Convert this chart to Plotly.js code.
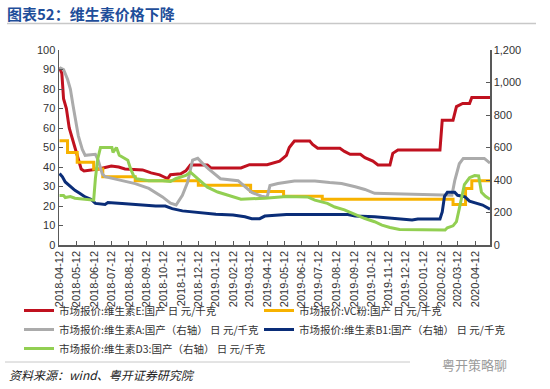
<!DOCTYPE html>
<html>
<head>
<meta charset="utf-8">
<script src="https://cdn.plot.ly/plotly-2.35.2.min.js"></script>
<style>html,body{margin:0;padding:0;background:#fff;}#chart{width:550px;height:389px;}</style>
</head>
<body>
<div id="chart"></div>
<script>
// ---- Data ----
const tickDates = ["2018-04-12","2018-05-12","2018-06-12","2018-07-12","2018-08-12","2018-09-12","2018-10-12","2018-11-12","2018-12-12","2019-01-12","2019-02-12","2019-03-12","2019-04-12","2019-05-12","2019-06-12","2019-07-12","2019-08-12","2019-09-12","2019-10-12","2019-11-12","2019-12-12","2020-01-12","2020-02-12","2020-03-12","2020-04-12"];

// 维生素E (left axis)
const eDates = ["2018-04-12","2018-04-16","2018-04-19","2018-04-24","2018-04-29","2018-05-04","2018-05-10","2018-05-15","2018-05-20","2018-05-25","2018-06-20","2018-07-12","2018-07-25","2018-08-05","2018-09-05","2018-09-20","2018-10-05","2018-10-12","2018-10-19","2018-10-24","2018-11-11","2018-11-20","2018-11-28","2018-12-28","2019-01-03","2019-02-25","2019-03-07","2019-03-12","2019-04-12","2019-04-20","2019-05-04","2019-05-16","2019-05-21","2019-05-30","2019-06-26","2019-07-01","2019-07-10","2019-08-18","2019-08-26","2019-09-05","2019-09-23","2019-10-01","2019-10-15","2019-10-24","2019-11-14","2019-11-19","2019-11-28","2020-02-10","2020-02-14","2020-03-04","2020-03-10","2020-03-21","2020-04-02","2020-04-06","2020-05-08"];
const eVals  = [91,88,75,70,60,55,50,44,39,38,39,40.5,40,39,38.5,37,36,35,34,36,36.5,38,41,41,39.5,39.5,40.5,41.2,41.2,42,43,46,50,53.3,53.3,51.6,49.6,49.6,48,46.5,46.5,44.8,43,41,41,47,48.7,48.7,64,64,71,72.6,72.6,75.7,75.7];

// VC粉 (left axis, step changes)
const vcDates = ["2018-04-12","2018-04-26","2018-05-13","2018-06-11","2018-06-27","2018-08-23","2018-12-12","2019-03-14","2019-05-11","2019-07-18","2020-03-04","2020-03-26","2020-04-06","2020-05-08"];
const vcVals  = [53.5,47.5,42.5,39,35,33,30.7,27.5,25,23.5,20.8,29,33,33.3];

// 维生素A (right axis)
const aDates = ["2018-04-12","2018-04-19","2018-04-26","2018-05-01","2018-05-06","2018-05-11","2018-05-15","2018-05-22","2018-05-27","2018-06-14","2018-06-19","2018-06-26","2018-07-01","2018-07-31","2018-08-23","2018-09-16","2018-10-10","2018-10-24","2018-11-03","2018-11-14","2018-11-23","2018-12-02","2018-12-11","2018-12-19","2018-12-30","2019-01-20","2019-02-20","2019-02-28","2019-03-16","2019-04-02","2019-04-12","2019-04-17","2019-05-01","2019-05-30","2019-07-05","2019-07-31","2019-08-21","2019-09-14","2019-10-01","2019-10-18","2019-12-28","2020-03-02","2020-03-07","2020-03-15","2020-03-22","2020-04-28","2020-05-08"];
const aVals  = [1092,1080,1020,960,852,756,672,588,552,558,522,438,420,396,378,348,296,258,246,306,384,522,534,504,468,408,396,372,324,300,294,366,378,394,394,384,378,358,342,318,312,306,396,500,533,533,504];

// 维生素B1 (right axis)
const b1Dates = ["2018-04-12","2018-04-17","2018-04-22","2018-05-01","2018-05-09","2018-05-18","2018-05-27","2018-06-06","2018-06-14","2018-07-01","2018-07-06","2018-07-31","2018-08-29","2018-09-28","2018-10-15","2018-10-27","2018-11-14","2018-12-12","2019-01-12","2019-02-11","2019-03-04","2019-03-16","2019-03-30","2019-04-08","2019-05-16","2019-09-01","2019-09-14","2019-10-18","2019-11-05","2019-11-28","2019-12-23","2020-01-02","2020-02-10","2020-02-14","2020-02-18","2020-02-23","2020-03-07","2020-03-12","2020-03-25","2020-04-02","2020-04-16","2020-04-25","2020-05-08"];
const b1Vals  = [440,420,388,358,336,317,296,282,256,250,262,256,248,240,240,224,210,200,190,184,174,162,162,178,187,187,178,174,168,160,154,160,160,204,300,324,324,306,296,270,258,246,220];

// 维生素D3 (right axis)
const d3Dates = ["2018-04-12","2018-04-19","2018-04-22","2018-05-01","2018-05-09","2018-05-27","2018-06-06","2018-06-11","2018-06-14","2018-06-18","2018-06-23","2018-07-13","2018-07-15","2018-07-21","2018-07-26","2018-08-10","2018-08-15","2018-08-20","2018-08-25","2018-09-16","2018-10-10","2018-10-24","2018-11-02","2018-11-20","2018-11-28","2018-12-07","2018-12-16","2018-12-28","2019-01-15","2019-02-11","2019-02-25","2019-04-08","2019-05-16","2019-06-22","2019-07-05","2019-07-27","2019-08-09","2019-08-26","2019-09-14","2019-10-01","2019-10-18","2019-10-31","2019-11-14","2019-12-01","2020-02-19","2020-02-23","2020-03-04","2020-03-10","2020-03-15","2020-03-24","2020-04-02","2020-04-11","2020-04-18","2020-04-23","2020-04-30","2020-05-08"];
const d3Vals  = [304,304,292,298,288,282,276,276,408,528,600,600,570,600,552,522,468,428,408,396,396,391,408,428,448,420,388,356,326,298,282,288,298,296,276,256,234,216,186,163,143,122,108,96,92,106,118,144,224,372,414,427,425,324,300,282];

const names = ["市场报价:维生素E:国产 日 元/千克","市场报价:VC粉:国产 日 元/千克","市场报价:维生素A:国产（右轴） 日 元/千克","市场报价:维生素B1:国产（右轴） 日 元/千克","市场报价:维生素D3:国产（右轴） 日 元/千克"];
const colors = ["#C0111F","#F7B200","#ABABAB","#0A2D78","#92CF52"];

const mk = (x, y, i, axis, leg, shape) => ({
  type: "scatter", mode: "lines", x: x, y: y, name: names[i], yaxis: axis, legend: leg,
  line: {color: colors[i], width: 3, shape: shape || "linear"}
});

const traces = [
  mk(eDates, eVals, 0, "y", "legend"),
  mk(vcDates, vcVals, 1, "y", "legend2", "hv"),
  mk(aDates, aVals, 2, "y2", "legend"),
  mk(b1Dates, b1Vals, 3, "y2", "legend2"),
  mk(d3Dates, d3Vals, 4, "y2", "legend")
];

const tickFont = {family: "Liberation Sans, Arial, sans-serif", size: 11, color: "#333"};
const axCol = "#595959";
const legFont = {family: "Noto Sans CJK SC, sans-serif", size: 10.5, color: "#333"};
const legBase = {orientation: "v", xanchor: "left", yanchor: "top",
  font: legFont, itemwidth: 30, tracegroupgap: 0, bgcolor: "rgba(0,0,0,0)", traceorder: "normal"};

const layout = {
  width: 550, height: 389,
  margin: {l: 59, r: 60, t: 50, b: 144},
  paper_bgcolor: "#fff", plot_bgcolor: "#fff",
  showlegend: true,
  title: {
    text: "图表52：维生素价格下降",
    font: {family: "Noto Sans CJK SC, sans-serif", size: 15, color: "#1F4E9A", weight: "bold"},
    x: 7/550, xref: "container", xanchor: "left",
    y: 1 - 15/389, yref: "container", yanchor: "middle"
  },
  xaxis: {
    type: "date", range: ["2018-04-11", "2020-05-08"],
    tickmode: "array", tickvals: tickDates, ticktext: tickDates,
    tickangle: -90, ticks: "inside", ticklen: 4, tickcolor: axCol,
    showline: true, linecolor: axCol, linewidth: 1.5,
    showgrid: false, zeroline: false, tickfont: tickFont
  },
  yaxis: {
    range: [0, 100], dtick: 10, ticks: "inside", ticklen: 4, tickcolor: axCol,
    showline: true, linecolor: axCol, linewidth: 1.5,
    showgrid: false, zeroline: false, tickfont: tickFont
  },
  yaxis2: {
    overlaying: "y", side: "right", range: [0, 1200], dtick: 200, tickformat: ",",
    ticks: "inside", ticklen: 4, tickcolor: axCol,
    showline: true, linecolor: axCol, linewidth: 1.5,
    showgrid: false, zeroline: false, tickfont: tickFont
  },
  legend: Object.assign({}, legBase, {x: (19-59)/431, y: (245-296)/195}),
  legend2: Object.assign({}, legBase, {x: (259-59)/431, y: (245-296)/195}),
  shapes: [
    {type: "line", xref: "paper", yref: "paper", x0: (7-59)/431, x1: (536-59)/431, y0: (245-23.5)/195, y1: (245-23.5)/195, line: {color: "#C8C8C8", width: 1.5}},
    {type: "line", xref: "paper", yref: "paper", x0: (5-59)/431, x1: (410-59)/431, y0: (245-362)/195, y1: (245-362)/195, line: {color: "#C8C8C8", width: 1}}
  ],
  annotations: [
    {text: "资料来源：wind、粤开证券研究院", xref: "paper", yref: "paper", x: (7-59)/431, y: (245-374)/195, xanchor: "left", yanchor: "middle", showarrow: false,
     font: {family: "Noto Sans CJK SC, sans-serif", size: 12, color: "#222", style: "italic"}},
    {text: "粤开策略聊", xref: "paper", yref: "paper", x: (440-59)/431, y: (245-364)/195, xanchor: "left", yanchor: "middle", showarrow: false,
     font: {family: "Noto Sans CJK SC, sans-serif", size: 13, color: "#9A9A9A"}}
  ]
};

Plotly.newPlot("chart", traces, layout, {displayModeBar: false, staticPlot: true});
</script>
</body>
</html>
